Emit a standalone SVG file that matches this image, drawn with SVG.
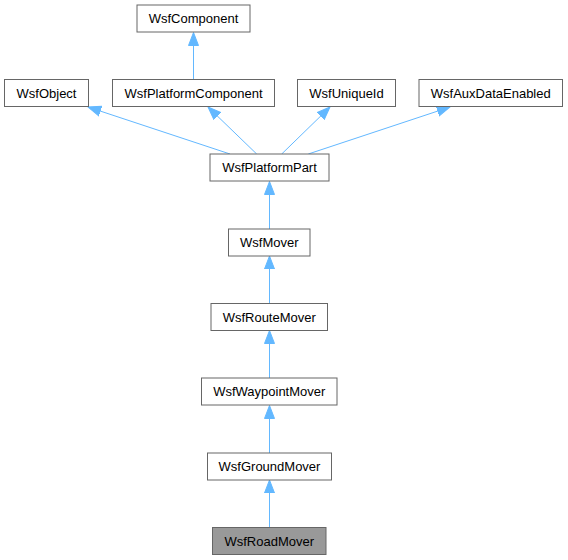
<svg xmlns="http://www.w3.org/2000/svg" width="568" height="560" viewBox="0 0 568 560">
<style>
.n rect{fill:#ffffff;stroke:#666666;stroke-width:1}
.n.h rect{fill:#999999;stroke:#666666}
.n text{font-family:"Liberation Sans",Arial,sans-serif;font-size:13px;fill:#000000;text-anchor:middle}
.e line{stroke:#63b8ff;stroke-width:1;fill:none;marker-end:url(#arr)}
</style>
<defs>
<marker id="arr" markerUnits="userSpaceOnUse" markerWidth="14" markerHeight="12" viewBox="0 -6 14 12" refX="13" refY="0" orient="auto">
<path d="M0,-5 L13,0 L0,5 Z" fill="#63b8ff" stroke="#63b8ff" stroke-width="1"/>
</marker>
</defs>
<rect width="568" height="560" fill="#ffffff"/>
<g id="edges" class="e">
<line x1="193.5" y1="79.5" x2="193.5" y2="32.5"/>
<line x1="230" y1="154" x2="88" y2="107"/>
<line x1="256.7" y1="154" x2="208" y2="107"/>
<line x1="281.7" y1="154" x2="330" y2="107"/>
<line x1="308.3" y1="154" x2="450" y2="107"/>
<line x1="269.5" y1="229" x2="269.5" y2="181.5"/>
<line x1="269.5" y1="303.5" x2="269.5" y2="256"/>
<line x1="269.5" y1="378" x2="269.5" y2="330.5"/>
<line x1="269.5" y1="453" x2="269.5" y2="405.5"/>
<line x1="269.5" y1="527.5" x2="269.5" y2="480"/>
</g>
<g id="WsfComponent" class="n"><rect x="137" y="5" width="113" height="27"/><text x="193.5" y="23.3">WsfComponent</text></g>
<g id="WsfObject" class="n"><rect x="4.5" y="79.5" width="84" height="27"/><text x="46.5" y="97.8">WsfObject</text></g>
<g id="WsfPlatformComponent" class="n"><rect x="112.5" y="79.5" width="162" height="27"/><text x="193.5" y="97.8">WsfPlatformComponent</text></g>
<g id="WsfUniqueId" class="n"><rect x="297.5" y="79.5" width="98" height="27"/><text x="346.5" y="97.8">WsfUniqueId</text></g>
<g id="WsfAuxDataEnabled" class="n"><rect x="419" y="79.5" width="143.5" height="27"/><text x="490.75" y="97.8">WsfAuxDataEnabled</text></g>
<g id="WsfPlatformPart" class="n"><rect x="210" y="154" width="119" height="27"/><text x="269.5" y="172.3">WsfPlatformPart</text></g>
<g id="WsfMover" class="n"><rect x="228.5" y="229" width="81.5" height="27"/><text x="269.25" y="247.3">WsfMover</text></g>
<g id="WsfRouteMover" class="n"><rect x="211" y="303.5" width="116.5" height="27"/><text x="269.25" y="321.8">WsfRouteMover</text></g>
<g id="WsfWaypointMover" class="n"><rect x="201.5" y="378" width="135.5" height="27"/><text x="269.25" y="396.3">WsfWaypointMover</text></g>
<g id="WsfGroundMover" class="n"><rect x="207.5" y="453" width="124" height="27"/><text x="269.5" y="471.3">WsfGroundMover</text></g>
<g id="WsfRoadMover" class="n h"><rect x="212.5" y="527.5" width="113.5" height="27"/><text x="269.25" y="545.8">WsfRoadMover</text></g>
</svg>
